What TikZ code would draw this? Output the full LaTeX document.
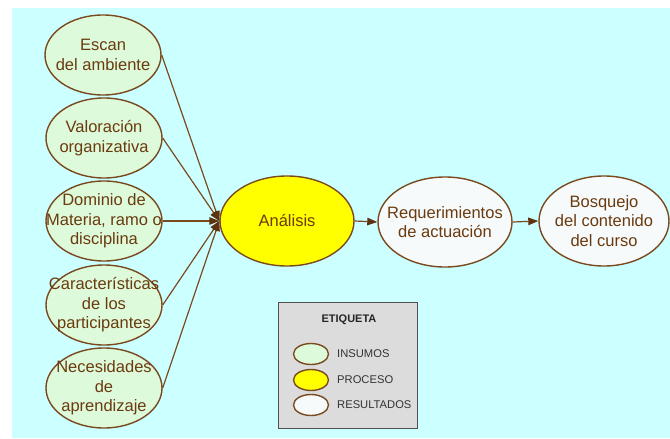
\documentclass[tikz,border=0pt]{standalone}
\usepackage{fontspec}
\setmainfont{Liberation Sans}
\usetikzlibrary{shapes.geometric,arrows.meta}
\definecolor{bgcyan}{HTML}{CCFFFF}
\definecolor{ingreen}{HTML}{DDFADB}
\definecolor{procyel}{HTML}{FFFF00}
\definecolor{reswhite}{HTML}{F6FAFB}
\definecolor{edgebrown}{HTML}{7A4A1E}
\definecolor{tipbrown}{HTML}{5E3210}
\definecolor{txtbrown}{HTML}{6B3A0E}
\definecolor{legfill}{HTML}{DCDCDC}
\definecolor{legline}{HTML}{505050}
\begin{document}
\begin{tikzpicture}[x=1pt,y=-1pt,
  bubble/.style={ellipse, draw=edgebrown, line width=1.4pt, inner sep=0pt},
  inbub/.style={bubble, fill=ingreen, minimum width=116pt, minimum height=80pt},
  bigbub/.style={bubble, minimum width=134pt, minimum height=90pt},
  txt/.style={text=txtbrown, align=center, inner sep=0pt, font=\fontsize{16.5}{19.5}\selectfont},
  conn/.style={draw=edgebrown, line width=1.2pt, -{Triangle[length=10pt,width=7.5pt,color=tipbrown]}},
  legbub/.style={bubble, minimum width=35pt, minimum height=21pt},
  legtxt/.style={anchor=west, inner sep=0pt, text=black!80, font=\fontsize{11.2}{12}\selectfont}]
\useasboundingbox (0,0) rectangle (670,439);
\fill[white] (0,0) rectangle (670,439);
\fill[bgcyan] (12,8) rectangle (670,438);

% inputs
\node[inbub] (e1) at (103,55) {};
\node[inbub] (e2) at (104,138) {};
\node[inbub] (e3) at (104,221) {};
\node[inbub] (e4) at (104,305) {};
\node[inbub] (e5) at (104,388) {};
\node[txt] (e1t) at (e1.center) {Escan\\del ambiente};
\node[txt] (e2t) at (e2.center) {Valoración\\organizativa};
\node[txt] (e3t) at (e3.center) {Dominio de\\Materia, ramo o\\disciplina};
\node[txt] (e4t) at (e4.center) {Características\\de los\\participantes};
\node[txt] (e5t) at (e5.center) {Necesidades\\de\\aprendizaje};

% process and results
\node[bigbub, fill=procyel] (ana) at (287,221) {};
\node[txt] (anat) at (ana.center) {Análisis};
\node[bigbub, fill=reswhite] (req) at (445,222) {};
\node[txt] (reqt) at (req.center) {Requerimientos\\de actuación};
\node[bigbub, fill=reswhite, minimum width=130pt] (bos) at (604,221) {};
\node[txt] (bost) at (bos.center) {Bosquejo\\del contenido\\del curso};

% connectors
\foreach \n in {e1,e2,e3,e4,e5}
  \draw[conn] (\n.east) -- (ana.west);
\draw[conn] (ana.east) -- (req.west);
\draw[conn] (req.east) -- (bos.west);

% legend
\node[draw=legline, fill=legfill, line width=1pt, minimum width=139pt, minimum height=126pt, inner sep=0pt] (leg) at (347.5,365) {};
\node[inner sep=0pt, font=\bfseries\fontsize{11}{12}\selectfont, text=black!85] (legt) at (349,320) {ETIQUETA};
\node[legbub, fill=ingreen] (l1) at (311,354) {};
\node[legbub, fill=procyel] (l2) at (311,380) {};
\node[legbub, fill=reswhite] (l3) at (311,405) {};
\node[legtxt] (l1t) at (337,354) {INSUMOS};
\node[legtxt] (l2t) at (337,380) {PROCESO};
\node[legtxt] (l3t) at (337,405) {RESULTADOS};
\end{tikzpicture}
\end{document}
